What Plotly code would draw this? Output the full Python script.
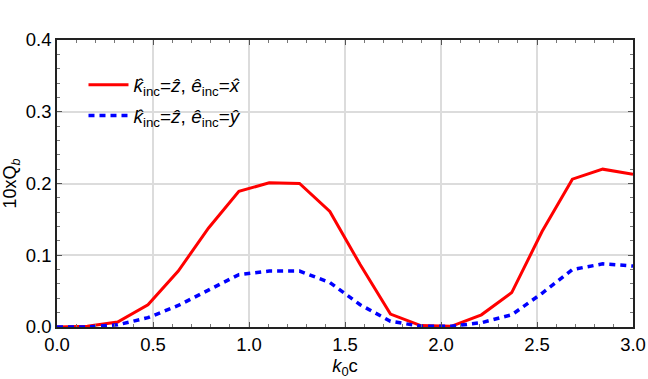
import numpy as np
import plotly.graph_objects as go

k0c = np.linspace(0, 3, 20)
q_x = [0.0, 0.001, 0.007, 0.031, 0.078, 0.138, 0.189, 0.201, 0.200, 0.161,
       0.087, 0.018, 0.002, 0.001, 0.017, 0.048, 0.133, 0.206, 0.220, 0.213]
q_y = [0.0, 0.0, 0.003, 0.013, 0.030, 0.052, 0.073, 0.078, 0.078, 0.062,
       0.031, 0.008, 0.001, 0.001, 0.006, 0.017, 0.047, 0.080, 0.088, 0.085]

label_x = "<i>k\u0302</i><sub>inc</sub>=<i>\u1e91</i>, <i>\u00ea</i><sub>inc</sub>=<i>x\u0302</i>"
label_y = "<i>k\u0302</i><sub>inc</sub>=<i>\u1e91</i>, <i>\u00ea</i><sub>inc</sub>=<i>\u0177</i>"

fig = go.Figure()
fig.add_trace(go.Scatter(x=k0c, y=q_x, mode="lines", name=label_x, legendgroup="a",
                         line=dict(color="#ff0000", width=3)))
fig.add_trace(go.Scatter(x=k0c, y=q_y, mode="lines", name=label_y, legendgroup="b",
                         line=dict(color="#0000ff", width=3.5, dash="6px,5px")))

axis_common = dict(
    showgrid=True, gridcolor="#dcdcdc", gridwidth=1.5,
    showline=True, linecolor="#222222", linewidth=1.5, mirror="ticks",
    ticks="inside", ticklen=5, tickcolor="#555555",
    zeroline=False, tickfont=dict(size=18.5, color="black"),
    automargin=False,
)

fig.update_layout(
    width=648, height=379,
    margin=dict(l=57, r=15, t=40, b=52),
    paper_bgcolor="white", plot_bgcolor="white",
    font=dict(family="Liberation Sans, Arial, sans-serif", color="black", size=18),
    xaxis=dict(range=[0, 3], dtick=0.5, tickformat=".1f",
               title=dict(text="<i>k</i><sub>0</sub>c", font=dict(size=18.5)),
               minor=dict(ticks="inside", ticklen=3, tickcolor="#777777", nticks=6),
               **axis_common),
    yaxis=dict(range=[0, 0.4], dtick=0.1, tickformat=".1f",
               title=dict(text="10xQ<sub><i>b</i></sub>", font=dict(size=18)),
               minor=dict(ticks="inside", ticklen=3, tickcolor="#777777", nticks=5),
               **axis_common),
    legend=dict(x=0.046, y=0.91, xanchor="left", yanchor="top",
                bgcolor="rgba(0,0,0,0)", font=dict(size=19),
                tracegroupgap=3, itemwidth=40),
    showlegend=True,
)

# drop the default 8px body margin so the figure sits flush in the window
fig.write_html("out.html", config={"displayModeBar": False},
               post_script="document.body.style.margin='0';")
